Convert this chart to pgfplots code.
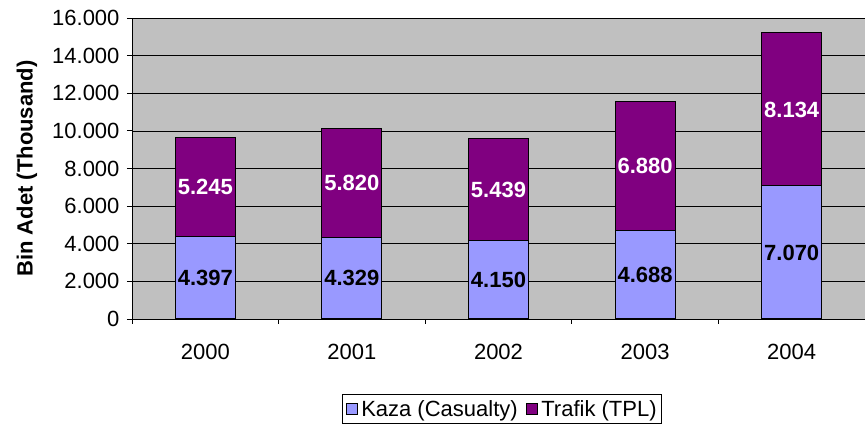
\documentclass[border=0pt]{standalone}
\usepackage{fontspec}
\setmainfont{Liberation Sans}
\usepackage{pgfplots}
\pgfplotsset{compat=1.18}
\usepackage{pgfplotstable}

\definecolor{kaza}{HTML}{9999FF}
\definecolor{trafik}{HTML}{800080}
\definecolor{plotbg}{HTML}{C0C0C0}
\newcommand\fs{\fontsize{22}{26}\selectfont}

% thousands, per year
\pgfplotstableread{
x v
0 4397
1 4329
2 4150
3 4688
4 7070
}\kaza
\pgfplotstableread{
x v
0 5245
1 5820
2 5439
3 6880
4 8134
}\trafik

\begin{document}
\begin{tikzpicture}
\useasboundingbox (-132pt,-108pt) rectangle (733pt,319pt);
\begin{axis}[
  at={(0,0)}, anchor=south west,
  scale only axis, width=733pt, height=301pt,
  ybar stacked, bar width=60pt,
  xmin=-0.5, xmax=4.5, ymin=0, ymax=16000,
  axis background/.style={fill=plotbg},
  axis x line*=bottom, axis y line*=left,
  axis line style={-, black, line width=0.8pt},
  ytick={0,2000,...,16000},
  xtick={0,...,4},
  xticklabels={2000,2001,2002,2003,2004},
  minor xtick={-0.5,0.5,...,4.5},
  major x tick style={draw=none},
  minor x tick style={black, line width=0.8pt},
  ytick style={black, line width=0.8pt},
  tick align=outside, major tick length=5pt, minor tick length=5pt,
  ymajorgrids, grid style={black, line width=0.6pt},
  scaled y ticks=false,
  /pgf/number format/.cd, 1000 sep={.}, assume math mode=true, /pgfplots/.cd,
  ticklabel style={font=\fs},
  xticklabel style={yshift=-17pt},
  yticklabel style={xshift=-4pt},
  ylabel={\textbf{Bin Adet (Thousand)}},
  ylabel style={font=\fs, yshift=8pt},
  legend style={at={(0.505,0)}, anchor=north, yshift=-75pt, draw=black,
    font=\fs, legend columns=-1, inner ysep=4pt,
    /tikz/every odd column/.append style={column sep=2pt},
    /tikz/every even column/.append style={column sep=6pt}},
  legend image code/.code={\draw[#1, draw=black, line width=0.6pt] (0pt,-5.5pt) rectangle (11pt,5.5pt);},
  point meta=explicit,
  nodes near coords,
  every node near coord/.append style={font=\fs\bfseries, anchor=center},
]
\addplot[fill=kaza, draw=black, line width=1pt,
  every node near coord/.append style={text=black}]
  table[x=x, y=v, meta=v] {\kaza};
\addplot[fill=trafik, draw=black, line width=1pt,
  every node near coord/.append style={text=white}]
  table[x=x, y=v, meta=v] {\trafik};
\legend{Kaza (Casualty), Trafik (TPL)}
\end{axis}
\end{tikzpicture}
\end{document}
